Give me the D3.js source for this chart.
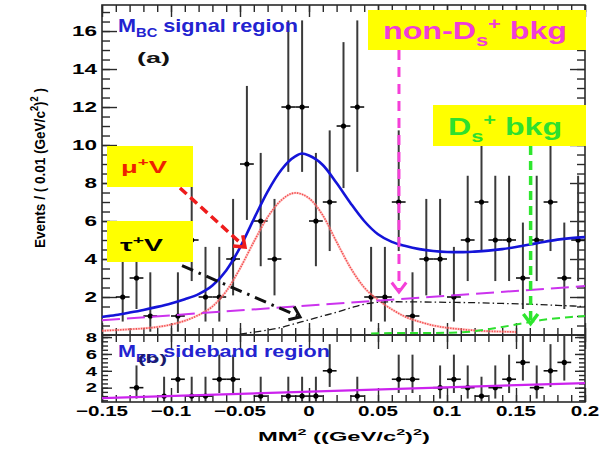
<!DOCTYPE html>
<html>
<head>
<meta charset="utf-8">
<script src="https://cdn.jsdelivr.net/npm/d3@7"></script>
<style>
  html, body { margin: 0; padding: 0; background: #fff; }
  svg { display: block; font-family: "Liberation Sans", Arial, Helvetica, sans-serif; }
</style>
</head>
<body>
<svg id="chart" width="615" height="449"></svg>
<script>
// ---- data ---------------------------------------------------------------
// Bin centres of MM^2 in (GeV/c^2)^2, bins 0.01 wide
const binCenters = [-0.145, -0.135, -0.125, -0.115, -0.105, -0.095, -0.085, -0.075, -0.065, -0.055,
                    -0.045, -0.035, -0.025, -0.015, -0.005, 0.005, 0.015, 0.025, 0.035, 0.045,
                    0.055, 0.065, 0.075, 0.085, 0.095, 0.105, 0.115, 0.125, 0.135, 0.145,
                    0.155, 0.165, 0.175, 0.185, 0.195];
// (a) M_BC signal region: events per bin
const signalCounts = [0, 2, 3, 1, 0, 1, 5, 2, 2, 4,
                      9, 6, 4, 12, 12, 6, 7, 11, 12, 2,
                      2, 7, 1, 4, 4, 2, 5, 7, 5, 5,
                      3, 5, 7, 3, 5];
// (b) M_BC sideband region: events per bin
const sidebandCounts = [0, 0, 2, 0, 1, 3, 1, 1, 3, 3,
                        0, 1, 0, 1, 1, 1, 4, 0, 1, 0,
                        0, 3, 3, 0, 2, 3, 2, 1, 2, 3,
                        5, 2, 4, 5, 0];
// Poisson 68% interval half-lengths, indexed by the bin count
const poissonErrLow  = [0, 0.827, 1.292, 1.633, 1.914, 2.160, 2.380, 2.581, 2.768, 2.943, 3.109, 3.266, 3.415];
const poissonErrHigh = [1.841, 2.300, 2.638, 2.918, 3.163, 3.382, 3.584, 3.770, 3.945, 4.110, 4.266, 4.416, 4.559];

// Fit components, sampled along MM^2
const totalFitX = [-0.15, -0.14, -0.13, -0.12, -0.11, -0.10, -0.09, -0.08, -0.07, -0.06, -0.05, -0.04, -0.03,
                   -0.02, -0.01, -0.005, 0.0, 0.01, 0.02, 0.03, 0.04, 0.05, 0.06, 0.07, 0.08, 0.09, 0.10,
                   0.11, 0.12, 0.13, 0.14, 0.15, 0.16, 0.17, 0.18, 0.19, 0.20];
const totalFitY = [0.95, 1.05, 1.18, 1.32, 1.48, 1.66, 1.88, 2.15, 2.6, 3.4, 4.6, 6.1, 7.55,
                   8.7, 9.4, 9.55, 9.45, 8.95, 8.0, 6.95, 6.0, 5.3, 4.9, 4.68, 4.52, 4.42, 4.37,
                   4.36, 4.39, 4.44, 4.52, 4.63, 4.76, 4.9, 5.02, 5.1, 5.15];
const muNuX = [-0.15, -0.13, -0.11, -0.10, -0.09, -0.08, -0.07, -0.06, -0.05, -0.04, -0.03, -0.02, -0.01,
               0.0, 0.01, 0.02, 0.03, 0.04, 0.05, 0.06, 0.07, 0.08, 0.09, 0.10, 0.11, 0.12, 0.13, 0.14, 0.15];
const muNuY = [0.22, 0.3, 0.42, 0.55, 0.75, 1.05, 1.5, 2.3, 3.5, 4.9, 6.2, 7.1, 7.48,
               7.2, 6.3, 4.9, 3.55, 2.5, 1.85, 1.35, 0.95, 0.7, 0.5, 0.38, 0.3, 0.24, 0.2, 0.18, 0.16];
const tauNuX = [-0.05, -0.04, -0.03, -0.02, -0.01, 0.0, 0.01, 0.02, 0.03, 0.04, 0.05, 0.06,
                0.08, 0.10, 0.12, 0.14, 0.16, 0.18, 0.20];
const tauNuY = [0.05, 0.15, 0.26, 0.4, 0.6, 0.8, 1.0, 1.2, 1.42, 1.62, 1.72, 1.75,
                1.74, 1.72, 1.7, 1.66, 1.62, 1.56, 1.5];
const nonDsBkgX = [-0.15, 0.20];
const nonDsBkgY = [0.78, 2.58];
const dsBkgX = [0.045, 0.06, 0.08, 0.10, 0.11, 0.12, 0.13, 0.14, 0.15, 0.16, 0.17, 0.18, 0.19, 0.20];
const dsBkgY = [0.08, 0.1, 0.1, 0.12, 0.14, 0.2, 0.3, 0.42, 0.55, 0.68, 0.8, 0.88, 0.95, 1.0];
// (b) background shape scaled to the sideband
const sidebandFitX = [-0.15, 0.20];
const sidebandFitY = [0.75, 2.55];

// Axis ticks and labels
const xTickValues = [-0.15, -0.1, -0.05, 0, 0.05, 0.1, 0.15, 0.2];
const xTickLabels = ["\u22120.15", "\u22120.1", "\u22120.05", "0", "0.05", "0.1", "0.15", "0.2"];
const yTopTickValues = [2, 4, 6, 8, 10, 12, 14, 16];
const yTopTickLabels = ["2", "4", "6", "8", "10", "12", "14", "16"];
const yBotTickValues = [2, 4, 6, 8];
const yBotTickLabels = ["2", "4", "6", "8"];

// Annotation arrows: [x, y] start and tip in data units of panel (a)
const muArrow = [[-0.0935, 7.74], [-0.0464, 4.63]];
const tauArrow = [[-0.092, 3.65], [-0.0065, 0.95]];
const nonDsArrow = [[0.0652, 15.0], [0.0652, 2.26]];
const dsArrow = [[0.1606, 9.95], [0.1606, 0.6]];

// ---- layout -------------------------------------------------------------
const L = 102, R = 585, topT = 5, topB = 335, botT = 335, botB = 402;
const svg = d3.select("#chart");
svg.append("rect").attr("width", 615).attr("height", 449).attr("fill", "#fff");

const x = d3.scaleLinear().domain([-0.15, 0.2]).range([L, R]);
const yTop = d3.scaleLinear().domain([0, 17.37]).range([topB, topT]);
const yBot = d3.scaleLinear().domain([0.3, 8.25]).range([botB, botT]);

const defs = svg.append("defs");
defs.append("clipPath").attr("id", "clipTop").append("rect")
  .attr("x", L).attr("y", topT).attr("width", R - L).attr("height", topB - topT);
defs.append("clipPath").attr("id", "clipBot").append("rect")
  .attr("x", L).attr("y", botT).attr("width", R - L).attr("height", botB - botT);

// ---- text helper: bold Helvetica-like text, stretched horizontally ------
function drawText(parent, o) {
  const size = o.size;
  const t = parent.append("text")
    .attr("font-size", size)
    .attr("font-weight", o.weight || "bold")
    .attr("fill", o.fill || "#000")
    .attr("text-anchor", o.anchor || "start");
  let shift = 0;
  o.parts.forEach(p => {
    const part = typeof p === "string" ? { t: p } : p;
    let target = 0, fs = size;
    if (part.sub) { target = size * 0.3; fs = size * 0.68; }
    if (part.sup) { target = -size * 0.42; fs = size * 0.68; }
    t.append("tspan").attr("font-size", fs).attr("dy", target - shift).text(part.t);
    shift = target;
  });
  let s = o.sx || 1;
  if (o.width) s = o.width / t.node().getBBox().width;
  const rot = o.rotate ? ` rotate(${o.rotate})` : "";
  t.attr("transform", `translate(${o.x},${o.y})${rot} scale(${s},1)`);
  return t;
}

// ---- frames and ticks ---------------------------------------------------
const axisColor = "#2a2a2a";
function ticks(g, axisFn, scale, values, size) {
  const a = axisFn(scale).tickValues(values).tickSize(size).tickSizeOuter(0).tickFormat("");
  g.call(a);
  g.select(".domain").remove();
  g.selectAll(".tick line").attr("stroke", axisColor).attr("stroke-width", 1.4);
}
function panelAxes(yScale, yMin, yMax, yMinorStep, yMajor, majLen, minLen, xMaj, xMin) {
  const minorX = d3.range(-0.15, 0.2001, 0.01);
  const minorY = d3.range(Math.ceil(yMin / yMinorStep) * yMinorStep, yMax, yMinorStep);
  const [y0, y1] = yScale.range();
  ticks(svg.append("g").attr("transform", `translate(${L},0)`), d3.axisLeft, yScale, minorY, -minLen);
  ticks(svg.append("g").attr("transform", `translate(${L},0)`), d3.axisLeft, yScale, yMajor, -majLen);
  ticks(svg.append("g").attr("transform", `translate(${R},0)`), d3.axisRight, yScale, minorY, -minLen);
  ticks(svg.append("g").attr("transform", `translate(${R},0)`), d3.axisRight, yScale, yMajor, -majLen);
  ticks(svg.append("g").attr("transform", `translate(0,${y0})`), d3.axisBottom, x, minorX, -xMin);
  ticks(svg.append("g").attr("transform", `translate(0,${y0})`), d3.axisBottom, x, xTickValues, -xMaj);
  ticks(svg.append("g").attr("transform", `translate(0,${y1})`), d3.axisTop, x, minorX, -xMin);
  ticks(svg.append("g").attr("transform", `translate(0,${y1})`), d3.axisTop, x, xTickValues, -xMaj);
  svg.append("rect").attr("x", L).attr("y", y1).attr("width", R - L).attr("height", y0 - y1)
    .attr("fill", "none").attr("stroke", axisColor).attr("stroke-width", 1.6);
}
panelAxes(yTop, 0, 17.37, 0.5, yTopTickValues, 15, 8, 12, 7);
panelAxes(yBot, 0.3, 8.25, 0.5, yBotTickValues, 10, 6, 14, 7);

// tick labels
yTopTickValues.forEach((v, i) => drawText(svg, {
  x: 97, y: yTop(v) + 5.4, parts: [yTopTickLabels[i]], size: 15, sx: 1.5, anchor: "end" }));
yBotTickValues.forEach((v, i) => drawText(svg, {
  x: 97, y: yBot(v) + 4.8, parts: [yBotTickLabels[i]], size: 13.5, sx: 1.5, anchor: "end" }));
xTickValues.forEach((v, i) => drawText(svg, {
  x: x(v), y: 415.5, parts: [xTickLabels[i]], size: 14.5, sx: 1.42, anchor: "middle" }));

// axis titles
drawText(svg, { x: 258, y: 441, size: 13.5, width: 172,
  parts: ["MM", { t: "2", sup: true }, " ((GeV/c", { t: "2", sup: true }, ")", { t: "2", sup: true }, ")"] });
drawText(svg, { x: 45, y: 248, size: 15.5, width: 160, rotate: -90,
  parts: ["Events / ( 0.01 (GeV/c", { t: "2", sup: true }, ")", { t: "2", sup: true }, " )"] });

// ---- data points with Poisson error bars --------------------------------
function drawPoints(counts, yScale, clipId) {
  const g = svg.append("g").attr("clip-path", `url(#${clipId})`);
  const pts = binCenters.map((c, i) => ({ c, n: counts[i] })).filter(d => d.n > 0);
  g.selectAll("line.ev").data(pts).join("line")
    .attr("x1", d => x(d.c)).attr("x2", d => x(d.c))
    .attr("y1", d => yScale(d.n - poissonErrLow[d.n])).attr("y2", d => yScale(d.n + poissonErrHigh[d.n]))
    .attr("stroke", "#3a3a3a").attr("stroke-width", 2);
  g.selectAll("line.eh").data(pts).join("line")
    .attr("x1", d => x(d.c - 0.005)).attr("x2", d => x(d.c + 0.005))
    .attr("y1", d => yScale(d.n)).attr("y2", d => yScale(d.n))
    .attr("stroke", "#111").attr("stroke-width", 1.6);
  g.selectAll("circle").data(pts).join("circle")
    .attr("cx", d => x(d.c)).attr("cy", d => yScale(d.n)).attr("r", 2.6).attr("fill", "#000");
}
drawPoints(signalCounts, yTop, "clipTop");
drawPoints(sidebandCounts, yBot, "clipBot");

// ---- fit curves ---------------------------------------------------------
function drawCurve(xs, ys, yScale, clipId, style) {
  const pts = xs.map((v, i) => [v, ys[i]]);
  const line = d3.line().x(d => x(d[0])).y(d => yScale(d[1])).curve(d3.curveMonotoneX);
  svg.append("path").attr("clip-path", `url(#${clipId})`).attr("d", line(pts))
    .attr("fill", "none").attr("stroke", style.color).attr("stroke-width", style.width)
    .attr("stroke-dasharray", style.dash || null).attr("stroke-opacity", style.opacity || 1)
    .attr("stroke-linecap", style.cap || "butt");
}
drawCurve(muNuX, muNuY, yTop, "clipTop", { color: "#ff9a9a", width: 2.4, opacity: 0.55 });
drawCurve(muNuX, muNuY, yTop, "clipTop", { color: "#f03030", width: 1.6, dash: "1.3,1.3", opacity: 0.8 });
drawCurve(tauNuX, tauNuY, yTop, "clipTop", { color: "#1a1a1a", width: 1.3, dash: "7,3,1.5,3" });
drawCurve(dsBkgX, dsBkgY, yTop, "clipTop", { color: "#2ee02e", width: 2, dash: "8,5" });
drawCurve(nonDsBkgX, nonDsBkgY, yTop, "clipTop", { color: "#cc33ee", width: 2, dash: "18,7" });
drawCurve(totalFitX, totalFitY, yTop, "clipTop", { color: "#1414d8", width: 2.6 });
drawCurve(sidebandFitX, sidebandFitY, yBot, "clipBot", { color: "#cc22ee", width: 2.2 });

// ---- annotation arrows --------------------------------------------------
function drawArrow(a, style) {
  const x1 = x(a[0][0]), y1 = yTop(a[0][1]), x2 = x(a[1][0]), y2 = yTop(a[1][1]);
  const ang = Math.atan2(y2 - y1, x2 - x1);
  const head = style.head || 12, spread = 0.65;
  svg.append("line").attr("x1", x1).attr("y1", y1)
    .attr("x2", x2 - Math.cos(ang) * 3).attr("y2", y2 - Math.sin(ang) * 3)
    .attr("stroke", style.color).attr("stroke-width", style.width).attr("stroke-dasharray", style.dash);
  const p = [ang + Math.PI - spread, ang + Math.PI + spread]
    .map(t => [x2 + Math.cos(t) * head, y2 + Math.sin(t) * head]);
  svg.append("path").attr("d", `M${p[0][0]},${p[0][1]} L${x2},${y2} L${p[1][0]},${p[1][1]}`)
    .attr("fill", "none").attr("stroke", style.color).attr("stroke-width", style.width)
    .attr("stroke-linejoin", "miter");
}
drawArrow(muArrow, { color: "#ee1c1c", width: 3.5, dash: "9,5" });
drawArrow(tauArrow, { color: "#111", width: 3, dash: "12,6,2.5,6" });
drawArrow(nonDsArrow, { color: "#f53fd8", width: 3, dash: "10,7" });
drawArrow(dsArrow, { color: "#2ee62e", width: 3.5, dash: "9,6" });

// ---- labelled boxes -----------------------------------------------------
const yellow = "#ffff00";
svg.append("rect").attr("x", 368).attr("y", 10).attr("width", 218).attr("height", 40).attr("fill", yellow);
svg.append("rect").attr("x", 433).attr("y", 105).attr("width", 153).attr("height", 41).attr("fill", yellow);
svg.append("rect").attr("x", 107).attr("y", 146).attr("width", 86).attr("height", 41).attr("fill", yellow);
svg.append("rect").attr("x", 107).attr("y", 221).attr("width", 86).attr("height", 41).attr("fill", yellow);

drawText(svg, { x: 383, y: 39, size: 24, width: 184, fill: "#f03cd8",
  parts: ["non-D", { t: "s", sub: true }, { t: "+", sup: true }, " bkg"] });
drawText(svg, { x: 448, y: 135, size: 23, width: 114, fill: "#2ee02e",
  parts: ["D", { t: "s", sub: true }, { t: "+", sup: true }, " bkg"] });
drawText(svg, { x: 121, y: 173, size: 17, width: 47, fill: "#ee2200",
  parts: ["\u03bc", { t: "+", sup: true }, "V"] });
drawText(svg, { x: 120, y: 251, size: 17, width: 44, fill: "#000",
  parts: ["\u03c4", { t: "+", sup: true }, "V"] });

// ---- panel titles -------------------------------------------------------
drawText(svg, { x: 118, y: 32, size: 18, width: 180, fill: "#2323d0",
  parts: ["M", { t: "BC", sub: true }, " signal region"] });
drawText(svg, { x: 137, y: 63, size: 15, width: 33, fill: "#111", parts: ["(a)"] });
drawText(svg, { x: 118, y: 357, size: 16, width: 212, fill: "#2323d0",
  parts: ["M", { t: "BC", sub: true }, " sideband region"] });
drawText(svg, { x: 138, y: 363, size: 13, width: 29, fill: "#1a1a6a", parts: ["(b)"] });
</script>
</body>
</html>
